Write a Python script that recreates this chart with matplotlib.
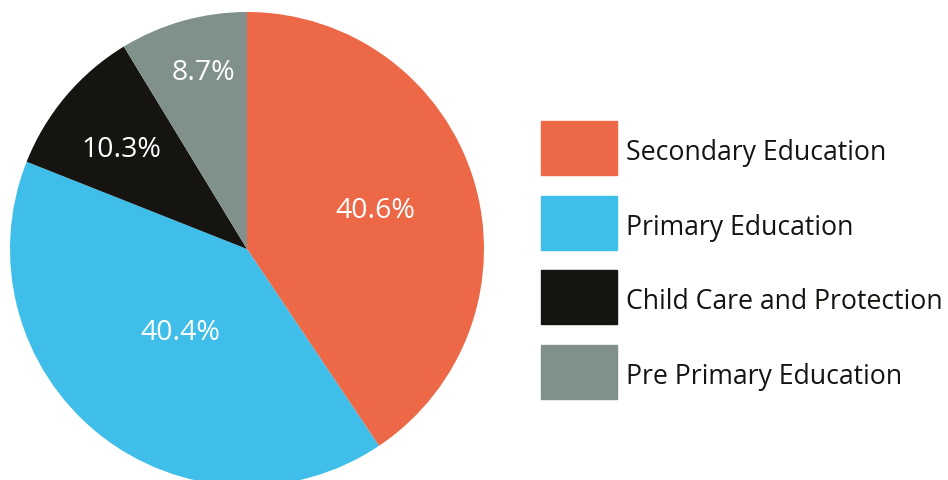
import matplotlib
matplotlib.use("Agg")
import matplotlib.pyplot as plt
import matplotlib.patches as mpatches
import matplotlib.transforms as mtransforms
import numpy as np

labels = ["Secondary Education", "Primary Education", "Child Care and Protection", "Pre Primary Education"]
values = [40.6, 40.4, 10.3, 8.7]
colors = ["#EC6847", "#3EBEE8", "#151411", "#80918C"]
# how far out each percent label sits (fraction of radius) and a small angle nudge (deg)
labelDist = [0.565, 0.45, 0.677, 0.77]
labelNudge = [0, 0, 1.5, -2]

fig = plt.figure(figsize=(9.48, 4.81), dpi=100)

# pie axes: circle centre ~ (247, 250) px, radius ~ 237 px
ax = fig.add_axes([10/948, -6/481, 474/948, 474/481])
wedges, _ = ax.pie(values, colors=colors, startangle=90, counterclock=False,
                   wedgeprops={"linewidth": 0})
ax.set_xlim(-1, 1)
ax.set_ylim(-1, 1)
ax.set_aspect("equal")
ax.axis("off")

for w, v, d, n in zip(wedges, values, labelDist, labelNudge):
    ang = np.deg2rad((w.theta1 + w.theta2) / 2 + n)
    ax.text(d * np.cos(ang), d * np.sin(ang), f"{v}%", color="white",
            fontsize=20.5, family="Open Sans", ha="center", va="center")

handles = [mpatches.Patch(color=c, label=l) for c, l in zip(colors, labels)]
fs = 19.2
leg = fig.legend(handles=handles, loc="upper left",
                 bbox_to_anchor=(541/948, 1 - 122/481), frameon=False,
                 prop={"family": "Open Sans", "size": fs},
                 handlelength=2.85, handleheight=2.74,
                 handletextpad=0.34, labelspacing=0.77, borderpad=0,
                 borderaxespad=0)
# nudge labels down a touch so they sit centred on the swatches
shift = mtransforms.ScaledTranslation(0, -3/100, fig.dpi_scale_trans)
for t in leg.get_texts():
    t.set_color("#151411")
    t.set_transform(t.get_transform() + shift)

fig.savefig("out.png", dpi=100)
